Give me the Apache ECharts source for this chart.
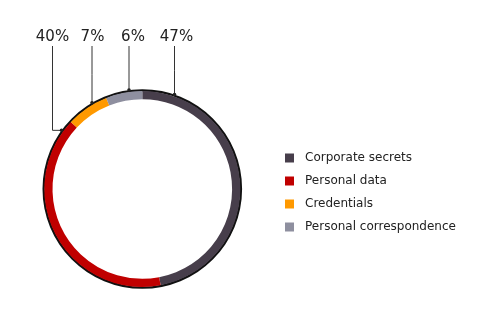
<!DOCTYPE html>
<html><head><meta charset="utf-8">
<script src="https://cdn.jsdelivr.net/npm/echarts@6/dist/echarts.min.js"></script>
<style>html,body{margin:0;padding:0;background:#fff}#c{width:490px;height:314px}</style>
</head><body><div id="c"></div>
<script>
const categories = ['Corporate secrets', 'Personal data', 'Credentials', 'Personal correspondence'];
const values = [47, 40, 7, 6];
const labels = ['47%', '40%', '7%', '6%'];
const colors = ['#473e4b', '#c00000', '#ff9900', '#8e8f9f'];

// layout constants
const CX = 142.3, CY = 189, R_OUT = 99.8, R_COL = 98, R_IN = 89.8;
const labelX = [176.5, 52.5, 92.5, 133];
const lineX = [174.5, 52.5, 92, 129];
const labelY = 37, lineTop = 46;
const elbowAngle = 144; // degrees, for the 40% label (elbow line)

function anchorFor(i) {
  if (i === 1) {
    const a = elbowAngle * Math.PI / 180;
    return [CX + R_OUT * Math.cos(a), CY - R_OUT * Math.sin(a)];
  }
  const dx = lineX[i] - CX;
  return [lineX[i], CY - Math.sqrt(R_OUT * R_OUT - dx * dx)];
}

const chart = echarts.init(document.getElementById('c'));
const dots = categories.map((c, i) => {
  const p = anchorFor(i);
  return { type: 'circle', shape: { cx: p[0], cy: p[1], r: 1.8 }, style: { fill: '#222' }, z: 100, silent: true };
});

chart.setOption({
  animation: false,
  color: colors,
  legend: {
    orient: 'vertical',
    left: 280, top: 146,
    icon: 'rect',
    itemWidth: 9, itemHeight: 9, itemGap: 9,
    data: categories,
    textStyle: { fontFamily: 'DejaVu Sans', fontSize: 12, color: '#222', lineHeight: 14, padding: [0, 0, 0, 6] },
    selectedMode: false
  },
  graphic: dots,
  series: [
    {
      type: 'pie', silent: true, z: 1,
      center: [CX, CY], radius: [R_OUT - 2.3, R_OUT],
      label: { show: false }, labelLine: { show: false },
      itemStyle: { color: '#111' },
      data: [{ value: 1, name: '__outline' }]
    },
    {
      type: 'pie', silent: true, z: 2,
      center: [CX, CY], radius: [R_IN, R_COL],
      startAngle: 90, clockwise: true,
      avoidLabelOverlap: false,
      data: categories.map((n, i) => ({ name: n, value: values[i] })),
      label: {
        show: true, position: 'outside', overflow: 'none', alignTo: 'none',
        formatter: p => labels[p.dataIndex],
        fontFamily: 'DejaVu Sans', fontSize: 15, color: '#222'
      },
      labelLine: { show: true, lineStyle: { color: '#333', width: 1 } },
      labelLayout: function (params) {
        const i = params.dataIndex;
        const a = anchorFor(i);
        let pts;
        if (i === 1) {
          pts = [a, [lineX[i], a[1]], [lineX[i], lineTop]];
        } else {
          pts = [a, [lineX[i], (a[1] + lineTop) / 2], [lineX[i], lineTop]];
        }
        return { x: labelX[i], y: labelY, align: 'center', verticalAlign: 'middle', labelLinePoints: pts };
      }
    }
  ]
});
</script></body></html>
